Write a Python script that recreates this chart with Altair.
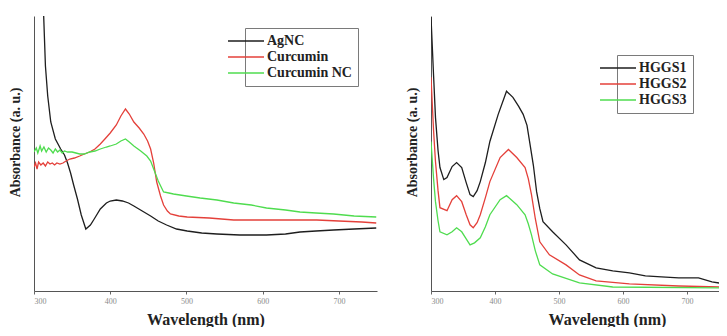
import altair as alt
import pandas as pd

# ---------------- Left panel data (Absorbance, arbitrary units) ----------------
wl_agnc = [312, 315, 318, 322, 328, 335, 340, 344, 348, 352, 357, 362, 368, 374, 379, 387,
           395, 400, 408, 416, 424, 431, 442, 453, 463, 474, 487, 501, 520, 540, 570,
           605, 630, 649, 670, 693, 720, 749]
ab_agnc = [290, 225, 195, 169, 152, 142, 136, 128, 118, 106, 92, 76, 62, 66, 72, 82,
           88, 90, 91, 90, 88, 85, 80, 75, 70, 66, 62, 60, 58, 57, 56,
           56, 57, 59, 60, 61, 62, 63]

wl_cur = [300, 302, 304, 306, 309, 312, 315, 318, 321, 324, 327, 330, 334, 338, 342,
          347, 353, 360, 366, 373, 380, 387, 393, 400, 408, 414, 420, 425, 431, 438,
          444, 449, 453, 457, 461, 466, 470, 475, 479, 490, 501, 530, 562, 600, 640,
          671, 700, 730, 749]
ab_cur = [124, 128, 122, 129, 126, 128, 125, 129, 127, 128, 126, 128, 127, 128, 130,
          132, 133, 135, 137, 139, 142, 147, 152, 158, 166, 175, 182, 177, 169, 163,
          157, 150, 142, 128, 109, 95, 86, 80, 77, 75, 74, 73, 71, 71, 71,
          71, 70, 69, 68]

wl_cnc = [300, 303, 305, 308, 310, 313, 316, 319, 322, 325, 328, 331, 334, 337, 340,
          344, 350, 355, 360, 366, 373, 380, 387, 395, 400, 408, 414, 420, 425, 431,
          440, 448, 453, 457, 463, 470, 477, 483, 500, 518, 540, 562, 585, 605, 630,
          649, 670, 693, 720, 749]
ab_cnc = [139, 143, 138, 145, 140, 144, 139, 143, 141, 138, 142, 139, 141, 138, 140,
          139, 139, 138, 137, 137, 139, 140, 142, 144, 145, 147, 150, 152, 149, 145,
          140, 135, 130, 122, 110, 99, 98, 97, 95, 93, 91, 88, 86, 83, 81,
          79, 78, 77, 75, 74]

# ---------------- Right panel data ----------------
wl_h1 = [300, 304, 307, 311, 314, 320, 325, 333, 340, 348, 355, 361, 366, 372, 377, 385,
         392, 405, 418, 428, 437, 444, 450, 454, 460, 465, 470, 475, 490, 511, 532,
         558, 584, 610, 635, 660, 687, 718, 739, 760]
ab_h1 = [273, 215, 173, 140, 123, 111, 113, 124, 128, 123, 108, 96, 94, 100, 109, 128,
         149, 176, 199, 193, 184, 176, 165, 149, 125, 99, 82, 69, 59, 46, 31,
         23, 20, 18, 15, 14, 13, 13, 9, 7]

wl_h2 = [300, 304, 307, 311, 314, 325, 333, 340, 348, 355, 361, 366, 372, 377, 385,
         392, 408, 421, 434, 447, 452, 457, 463, 470, 485, 511, 532, 558, 610, 687, 760]
ab_h2 = [213, 160, 129, 100, 83, 80, 91, 95, 89, 76, 66, 63, 68, 76, 93,
         109, 133, 141, 133, 123, 112, 96, 72, 49, 36, 26, 16, 10, 7, 5, 4]

wl_h3 = [300, 304, 307, 311, 314, 325, 333, 340, 348, 355, 361, 368, 377, 385,
         392, 408, 418, 434, 447, 452, 457, 463, 470, 490, 532, 584, 760]
ab_h3 = [149, 112, 89, 70, 59, 56, 59, 63, 59, 52, 46, 48, 53, 64,
         76, 91, 95, 86, 76, 67, 56, 40, 26, 17, 8, 4, 3]

left_names = ["AgNC", "Curcumin", "Curcumin NC"]
right_names = ["HGGS1", "HGGS2", "HGGS3"]
line_colors = ["#1e1e1e", "#e4403a", "#4fdc4f"]
x_ticks = [300, 400, 500, 600, 700]


def long_df(series):
    rows = []
    for name, wl, ab in series:
        for i, (w, a) in enumerate(zip(wl, ab)):
            rows.append({"series": name, "wl": w, "ab": a, "order": i})
    return pd.DataFrame(rows)


df_left = long_df([(left_names[0], wl_agnc, ab_agnc),
                   (left_names[1], wl_cur, ab_cur),
                   (left_names[2], wl_cnc, ab_cnc)])
df_right = long_df([(right_names[0], wl_h1, ab_h1),
                    (right_names[1], wl_h2, ab_h2),
                    (right_names[2], wl_h3, ab_h3)])

SERIF = "Liberation Serif"


def panel(df, names, width, height, ymax, legend_x, legend_y, title_x=None):
    xaxis_kw = dict(values=x_ticks, title="Wavelength (nm)", grid=False,
                    labelFontSize=8, labelColor="#8a8a8a", labelFont=SERIF,
                    tickSize=3, tickColor="#666", domainColor="#555",
                    labelPadding=3, titlePadding=6, titleFont=SERIF,
                    titleFontSize=16, titleFontWeight="bold", titleColor="#222")
    if title_x is not None:
        xaxis_kw["titleX"] = title_x
    return alt.Chart(df).mark_line(strokeWidth=1.3, clip=True).encode(
        x=alt.X("wl:Q", scale=alt.Scale(domain=[300, 750], nice=False, zero=False),
                axis=alt.Axis(**xaxis_kw)),
        y=alt.Y("ab:Q", scale=alt.Scale(domain=[0, ymax], nice=False),
                axis=alt.Axis(title="Absorbance (a. u.)", labels=False, ticks=False,
                              grid=False, domainColor="#555", titlePadding=12,
                              titleFont=SERIF, titleFontSize=14, titleFontWeight="bold",
                              titleColor="#222", titleY=126)),
        color=alt.Color("series:N",
                        scale=alt.Scale(domain=names, range=line_colors),
                        legend=alt.Legend(title=None, orient="none",
                                          legendX=legend_x, legendY=legend_y,
                                          symbolType="M-5,0H1", symbolSize=144,
                                          symbolStrokeWidth=1.5,
                                          labelFont=SERIF, labelFontWeight="bold",
                                          labelFontSize=14, labelColor="#222",
                                          labelOffset=2,
                                          strokeColor="#7a7a7a", fillColor="white",
                                          padding=6, rowPadding=2)),
        order="order:Q",
    ).properties(width=width, height=height)


left = panel(df_left, left_names, 343, 275, 275, 211, 12)
right = panel(df_right, right_names, 288, 275, 274, 186, 39, title_x=176)

chart = alt.hconcat(left, right, spacing=28).resolve_scale(
    color="independent").resolve_legend(color="independent").configure(
    padding={"left": 0, "top": 8, "right": 0, "bottom": 0},
    background="white",
).configure_view(stroke=None)

chart.save("out.html", embed_options={"renderer": "svg", "actions": False})
